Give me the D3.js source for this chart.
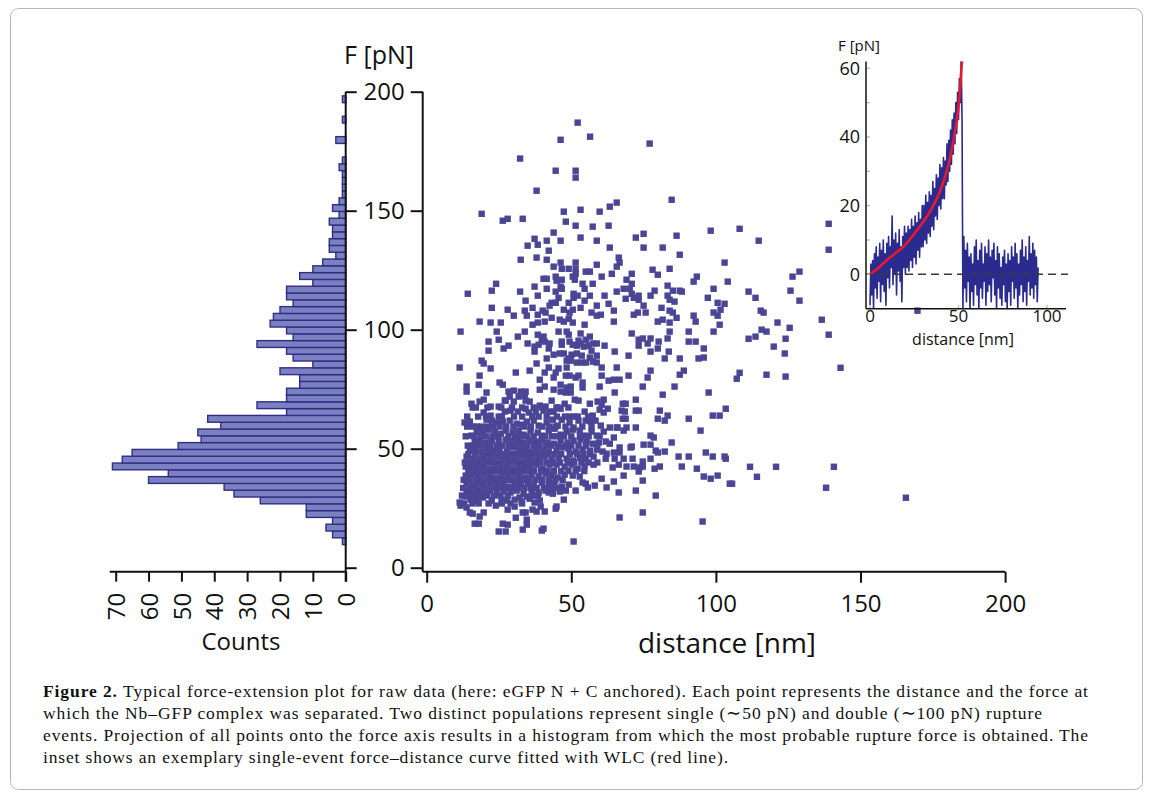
<!DOCTYPE html>
<html>
<head>
<meta charset="utf-8">
<script src="https://cdn.jsdelivr.net/npm/d3@7"></script>
<style>
  body { margin: 0; background: #fff; }
  svg { display: block; }
  .axis-line { stroke: #111; stroke-width: 2; }
  .axis line { stroke: #111; stroke-width: 2; }
  .axis text { font-family: "Open Sans", sans-serif; font-size: 24px; fill: #111; }
  .axis-title { font-family: "Open Sans", sans-serif; fill: #111; }
  .inset-axis-line { stroke: #111; stroke-width: 1.5; }
  .inset-tick { stroke: #b5b5b5; stroke-width: 1.2; }
  .inset-label { font-family: "Open Sans", sans-serif; fill: #111; }
  .caption { font-family: "Liberation Serif", "Times New Roman", Times, serif; font-size: 17.5px; fill: #111; }
  .frame { fill: none; stroke: #b8b8b8; stroke-width: 1; }
</style>
</head>
<body>
<div id="wrapper"></div>
<script>
// rupture events: [distance nm, force pN]
const ruptureEvents = [
  [52.2,187.0],[46.3,179.8],[56.5,181.1],[77.1,178.2],[32.3,171.9],[44.6,166.8],[51.5,166.8],[51.5,163.9],[38.0,158.4],[84.7,154.6],
  [65.7,153.4],[63.3,151.7],[19.0,148.7],[26.3,145.8],[28.0,146.6],[33.2,146.6],[47.4,149.6],[53.2,150.4],[59.8,149.6],[48.1,145.4],
  [51.5,143.7],[57.4,143.3],[62.9,143.7],[98.2,141.6],[43.9,140.8],[75.0,140.3],[72.3,138.7],[86.4,139.5],[37.3,138.2],[41.5,137.4],
  [46.3,137.4],[53.2,138.7],[58.8,137.4],[34.9,135.3],[38.4,135.7],[63.3,134.5],[75.0,134.5],[81.6,134.5],[42.2,133.2],[87.5,131.5],
  [32.5,129.4],[38.0,130.3],[41.5,129.4],[66.4,130.3],[66.7,128.2],[46.3,128.2],[51.5,128.2],[58.8,127.3],[103.0,128.2],[43.9,126.5],
  [46.7,125.6],[49.1,125.6],[51.5,125.6],[65.7,126.5],[78.1,125.2],[84.0,125.6],[55.0,124.4],[56.4,124.4],[51.5,123.5],[64.0,123.5],
  [70.9,123.5],[79.9,123.1],[93.4,122.3],[60.5,122.3],[40.4,121.4],[41.5,121.4],[44.6,122.3],[44.9,120.6],[50.5,122.3],[51.2,121.0],
  [46.7,121.0],[69.1,121.0],[92.3,120.2],[104.1,120.2],[24.0,119.3],[53.9,119.3],[57.4,119.3],[70.9,119.3],[83.3,118.5],[46.3,118.1],
  [37.3,118.1],[41.5,117.2],[46.7,117.2],[54.6,117.2],[68.1,117.2],[70.2,117.2],[99.2,117.2],[78.8,116.4],[85.1,116.4],[87.5,116.4],
  [88.2,116.0],[14.2,115.1],[22.5,116.4],[32.3,116.0],[44.6,116.0],[50.8,115.1],[52.2,114.3],[56.4,114.3],[61.5,114.3],[65.7,116.0],
  [70.9,115.1],[73.3,114.3],[77.4,114.3],[83.3,114.3],[38.4,114.3],[45.6,113.4],[50.8,113.4],[68.8,113.0],[71.6,113.4],[73.3,112.6],
  [84.0,112.6],[97.2,113.4],[85.7,111.8],[34.2,112.2],[43.2,111.3],[44.6,111.3],[49.1,111.3],[54.6,112.2],[62.9,110.9],[75.0,110.1],
  [100.6,111.3],[103.0,110.9],[22.5,109.2],[36.6,109.2],[42.5,110.1],[58.8,110.1],[28.0,108.4],[33.9,108.0],[40.1,108.0],[47.4,108.4],
  [50.5,108.4],[53.2,109.2],[64.7,108.0],[81.2,109.2],[84.0,108.0],[101.6,108.4],[30.1,105.9],[34.6,105.9],[38.4,106.3],[41.1,107.2],
  [49.4,107.2],[57.0,107.2],[60.2,106.3],[58.8,105.9],[71.6,106.3],[73.0,107.2],[75.7,107.2],[85.1,107.2],[92.3,105.9],[99.2,107.2],
  [100.6,105.9],[86.4,105.0],[18.3,103.4],[22.1,103.0],[25.6,103.0],[36.6,102.1],[38.4,103.0],[40.8,103.4],[43.2,105.0],[46.0,104.2],
  [47.4,103.4],[49.1,104.6],[50.5,103.0],[54.6,102.1],[64.7,103.4],[79.9,103.4],[81.6,104.2],[84.0,103.0],[93.0,103.4],[101.3,102.1],
  [108.2,142.4],[114.8,137.4],[139.0,144.5],[139.0,133.6],[126.5,122.3],[128.9,124.4],[111.3,116.0],[113.7,113.4],[125.8,116.4],[128.9,112.2],
  [115.5,108.0],[116.5,107.2],[136.6,104.2],[121.3,103.0],[125.5,100.8],[115.8,100.0],[117.5,99.2],[111.3,96.2],[113.7,97.1],[124.1,96.2],
  [139.0,97.9],[120.0,92.9],[123.8,90.0],[143.1,84.0],[108.2,81.9],[117.5,81.1],[124.1,80.3],[107.2,79.4],[169.7,108.0],
  [111.8,42.4],[120.8,42.4],[140.8,42.4],[114.2,38.2],[105.6,35.3],[138.1,33.6],[165.7,29.4],
  [11.7,99.2],[24.2,99.2],[31.5,97.1],[33.9,99.2],[38.4,97.9],[40.4,97.1],[45.6,99.2],[48.4,99.2],[49.1,97.9],[53.2,98.4],
  [56.4,97.1],[70.9,98.4],[84.0,99.2],[90.6,99.2],[99.2,99.2],[21.4,95.0],[24.9,95.8],[28.3,93.3],[26.6,92.1],[34.9,94.2],
  [37.3,92.9],[38.7,93.7],[39.8,95.8],[40.8,95.0],[42.5,94.2],[42.2,92.1],[46.7,95.0],[46.7,93.7],[49.4,95.0],[50.5,93.7],
  [51.9,93.3],[52.5,95.4],[53.2,94.2],[55.0,95.8],[54.3,92.9],[56.0,93.3],[57.4,94.2],[58.8,94.2],[57.0,91.2],[61.5,93.3],
  [65.0,90.8],[73.3,95.8],[74.7,96.3],[73.3,93.3],[76.4,94.2],[77.4,96.3],[80.2,95.0],[79.9,92.1],[83.3,96.3],[90.6,95.0],
  [93.0,95.0],[95.8,92.1],[77.4,90.8],[83.7,90.8],[82.3,87.9],[87.5,87.9],[94.0,87.9],[95.8,88.3],[21.4,91.2],[37.3,90.8],
  [43.9,89.5],[46.0,90.0],[47.4,90.0],[49.1,87.9],[50.1,89.5],[51.9,90.0],[53.6,89.1],[56.4,88.3],[58.8,89.1],[69.8,89.1],
  [41.5,87.9],[48.4,87.0],[49.8,87.0],[51.9,86.2],[53.6,86.2],[55.0,86.2],[57.4,86.6],[58.8,86.2],[11.4,84.1],[19.0,87.0],
  [19.7,85.8],[22.1,83.7],[18.3,80.7],[18.0,76.9],[13.8,76.1],[13.8,74.0],[20.7,73.6],[25.2,77.8],[26.3,76.9],[30.8,82.0],
  [35.6,82.8],[38.0,85.8],[42.2,84.1],[40.8,82.0],[44.6,82.0],[45.6,83.7],[48.4,84.1],[49.4,80.7],[48.1,80.7],[52.5,80.7],
  [51.5,79.9],[39.1,79.0],[43.9,79.9],[60.5,84.1],[60.5,80.7],[65.7,84.1],[69.8,80.7],[77.4,82.8],[76.4,79.9],[62.9,78.6],
  [64.7,79.0],[66.7,79.0],[87.5,81.1],[88.9,82.8],[74.7,76.1],[85.7,76.1],[81.6,72.7],[97.5,73.6],[65.0,73.6],[53.9,77.8],
  [53.9,75.7],[59.8,76.1],[46.3,76.9],[46.3,74.0],[43.9,74.8],[48.4,75.7],[49.8,76.1],[48.1,73.6],[49.8,73.6],[39.1,74.8],
  [40.8,76.1],[28.3,74.0],[30.1,74.4],[32.5,74.0],[34.2,74.0],[33.9,72.3],[28.7,71.9],[27.0,70.2],
  [72.3,70.6],[67.8,68.9],[68.8,68.9],[67.4,66.0],[68.5,65.6],[72.3,66.0],[73.3,66.0],[80.6,66.0],[103.4,66.8],[83.3,63.9],
  [82.3,61.8],[79.9,62.6],[90.6,62.6],[98.9,63.9],[101.3,63.9],[67.8,62.6],[68.8,62.6],[65.7,58.9],[68.1,57.6],[69.1,58.9],
  [72.3,58.9],[94.7,57.6],[77.4,55.5],[78.5,54.7],[64.7,54.7],[84.7,52.6],[75.0,51.7],[77.4,51.7],[66.7,50.5],[70.9,50.9],
  [70.5,50.5],[79.2,49.2],[79.9,48.4],[82.3,48.8],[87.1,46.7],[90.6,46.7],[96.5,48.4],[98.9,46.7],[103.0,46.7],[103.4,45.8],
  [77.4,45.8],[74.7,44.6],[71.2,45.8],[68.1,45.8],[65.0,45.8],[61.9,45.8],[62.2,47.9],[64.7,48.4],[66.7,48.4],[63.3,52.1],
  [64.3,42.1],[66.4,43.3],[69.1,42.5],[71.6,42.5],[73.6,42.1],[74.7,42.5],[73.3,40.4],[78.8,41.6],[80.6,42.5],[88.2,42.5],
  [93.4,41.6],[95.8,38.3],[98.2,37.4],[100.6,38.7],[104.8,35.3],[68.1,38.7],[74.7,36.6],[64.7,36.2],[62.2,33.7],[66.4,31.6],
  [72.3,32.4],[79.2,30.3],[74.7,23.2],[66.7,21.1],[95.4,19.4],[60.5,37.4],[58.1,34.5],[55.7,33.7],[53.9,35.8],
  [50.8,11.0],[47.4,28.6],[44.9,25.7],[39.8,15.6],[40.4,16.4],[33.2,16.0],[34.6,20.2],[34.6,18.1],[30.8,21.0],[28.0,18.1],
  [26.3,18.5],[24.9,15.2],[27.3,15.2],[16.6,18.5],[18.0,18.5],[18.3,21.5],[19.7,23.2],[15.9,22.7],[13.8,25.3],[11.7,26.1],
  [11.4,27.4],[14.9,23.2],[28.0,24.4],[33.2,23.2],[34.2,23.2],[36.6,24.4],[38.0,23.6],[40.8,23.6],[44.6,24.8],[39.4,25.7],
  [37.3,27.4],[39.1,28.2],[30.4,25.7],[23.9,26.1],[21.4,27.0],[22.5,28.2],[25.9,28.6],[27.7,28.2],[32.1,29.5],[34.6,29.9],
  [42.2,31.6],[48.1,32.4],[51.5,32.4],[55.0,35.3],
  [15.5,68.9],[18.3,69.8],[19.7,70.6],[22.1,67.7],[24.9,67.7],[27.3,70.2],[30.1,69.8],[31.8,71.9],[34.2,70.2],[35.6,69.8],
  [39.1,68.1],[41.1,67.7],[43.2,70.2],[44.9,67.3],[47.7,68.9],[51.2,70.6],[52.5,70.2],[56.4,68.9],[59.1,69.8],[61.2,70.6],
  [60.5,68.5],[62.6,66.8],[15.9,67.3],[19.7,65.2],[22.1,63.9],[24.9,63.5],[27.0,65.6],[29.0,66.0],[31.5,65.6],[34.2,66.8],
  [35.3,65.2],[37.7,65.6],[38.7,63.5],[40.4,66.0],[42.5,65.6],[43.9,65.6],[46.3,66.8],[49.4,63.5],[52.2,63.5],[54.6,65.6],
  [57.4,63.9],[59.8,66.4],[61.2,65.2],[13.1,61.0],[14.9,61.4],[17.3,59.3],[19.0,59.3],[20.7,62.2],[22.5,61.8],[24.5,61.0],
  [26.3,61.4],[28.7,61.8],[31.1,60.5],[32.8,60.1],[34.6,61.4],[37.0,61.8],[38.7,59.7],[41.5,61.0],[43.6,62.2],[45.3,59.7],
  [46.7,62.2],[49.4,61.0],[50.8,58.9],[52.5,61.8],[55.0,61.8],[56.7,61.4],[58.4,61.8],[60.2,59.7],[63.3,58.9],[66.0,58.9],
  [15.5,55.5],[17.3,57.2],[19.4,57.6],[21.4,58.0],[23.5,57.2],[25.6,56.3],[27.3,57.6],[29.7,56.8],[31.8,57.6],[33.5,55.9],
  [35.9,57.6],[38.4,56.8],[39.8,55.5],[42.2,57.6],[44.2,58.4],[46.3,55.9],[48.4,57.2],[50.5,58.0],[52.9,57.6],[54.6,55.5],
  [57.0,57.2],[58.8,55.5],[61.2,57.2],[16.6,53.0],[18.3,53.4],[20.4,52.6],[22.5,53.4],[24.9,53.0],[27.3,53.8],[29.4,53.0],
  [31.5,53.4],[33.5,52.6],[35.6,53.4],[37.7,53.0],[39.8,53.8],[41.8,52.6],[43.9,52.1],[46.3,53.4],[48.7,52.6],[50.8,53.4],
  [53.2,53.8],[55.3,53.0],[57.4,52.1],[59.5,52.6],[61.9,53.0],[14.9,49.2],[16.9,49.6],[19.0,48.8],[21.1,50.0],[23.2,49.2],
  [25.2,49.6],[27.7,48.8],[29.7,50.5],[31.8,49.2],[33.9,49.6],[35.9,48.8],[38.0,50.0],[40.1,49.2],[42.2,48.8],[44.9,49.2],
  [47.0,50.5],[49.1,50.0],[51.5,48.8],[53.9,49.6],[56.4,49.2],[58.8,49.6],[60.8,48.8],[13.8,46.7],[15.9,45.8],[18.0,45.4],
  [20.0,46.3],[22.1,45.8],[24.2,46.7],[26.3,45.4],[28.3,46.3],[30.4,45.8],[32.5,46.7],[34.6,45.4],[36.6,46.3],[38.7,45.8],
  [40.8,46.7],[43.2,45.4],[45.6,46.3],[48.4,45.8],[50.5,45.0],[52.9,46.3],[55.0,45.8],[57.7,46.7],[13.5,42.5],[15.2,42.1],
  [17.3,42.9],[19.4,42.5],[21.4,41.6],[23.5,42.9],[25.6,42.1],[27.7,42.5],[29.7,41.6],[31.8,42.9],[33.9,42.1],[35.9,42.5],
  [38.0,43.3],[40.1,41.6],[42.5,43.3],[44.9,43.3],[47.7,42.5],[50.1,43.3],[52.2,41.6],[54.6,42.9],[57.7,43.3],[13.5,38.7],
  [15.5,39.1],[17.6,38.3],[19.7,39.5],[21.8,38.7],[23.8,37.9],[25.9,39.1],[28.0,38.3],[30.1,39.5],[32.1,38.7],[34.2,37.9],
  [36.3,39.1],[38.7,38.3],[41.1,39.5],[43.2,38.7],[45.3,37.9],[47.7,39.1],[50.5,38.7],[52.9,38.3],[13.8,35.3],[15.9,34.5],
  [18.0,35.8],[20.0,34.9],[22.1,35.8],[24.2,34.5],[26.3,35.3],[28.3,34.1],[30.4,35.8],[32.5,34.9],[34.9,35.3],[37.0,34.5],
  [39.8,35.8],[42.2,34.9],[44.2,35.3],[46.7,34.1],[49.1,34.9],[13.8,32.0],[15.5,31.1],[17.6,32.4],[19.7,31.6],[21.8,32.4],
  [24.2,31.1],[26.6,32.0],[29.0,31.6],[31.1,32.4],[33.5,31.1],[36.3,32.4],[38.7,31.6],[41.1,32.4],[43.6,31.1],[46.0,32.0],
  [13.5,29.9],[15.2,28.6],[17.3,28.2],[19.4,29.5],[30.4,28.6],[32.8,27.8],[35.6,29.0],
  [17.0,67.3],[21.0,67.3],[25.8,67.3],[29.5,67.3],[33.0,67.3],[37.0,67.3],[40.0,67.3],[45.5,67.3],[49.0,67.3],
  [14.0,63.5],[17.8,63.5],[20.5,63.5],[26.0,63.5],[30.2,63.5],[33.0,63.5],[36.5,63.5],[41.5,63.5],[45.0,63.5],[47.8,63.5],[51.0,63.5],[55.8,63.5],
  [14.0,59.3],[16.0,59.3],[21.0,59.3],[23.0,59.3],[25.2,59.3],[27.5,59.3],[30.0,59.3],[33.8,59.3],[36.0,59.3],[40.0,59.3],[42.4,59.3],[44.6,59.3],[48.0,59.3],[53.8,59.3],[57.0,59.3],
  [13.5,55.2],[16.4,55.2],[18.6,55.2],[20.6,55.2],[22.8,55.2],[24.8,55.2],[28.3,55.2],[30.6,55.2],[32.6,55.2],[34.8,55.2],[37.0,55.2],[41.0,55.2],[43.3,55.2],[45.2,55.2],[47.5,55.2],[50.0,55.2],[53.0,55.2],[56.0,55.2],[59.8,55.2],
  [14.2,51.3],[16.0,51.3],[18.0,51.3],[20.2,51.3],[22.0,51.3],[24.2,51.3],[26.2,51.3],[28.4,51.3],[30.6,51.3],[32.7,51.3],[34.8,51.3],[37.0,51.3],[39.0,51.3],[41.2,51.3],[43.0,51.3],[45.5,51.3],[48.0,51.3],[50.0,51.3],[52.5,51.3],[55.0,51.3],[59.0,51.3],
  [14.4,47.7],[16.8,47.7],[19.0,47.7],[21.2,47.7],[23.3,47.7],[25.3,47.7],[27.4,47.7],[29.5,47.7],[31.5,47.7],[33.6,47.7],[35.6,47.7],[37.8,47.7],[39.8,47.7],[42.0,47.7],[44.2,47.7],[46.5,47.7],[49.5,47.7],[52.0,47.7],[54.2,47.7],[56.5,47.7],
  [13.2,44.2],[15.0,44.2],[17.0,44.2],[19.0,44.2],[21.0,44.2],[23.0,44.2],[25.0,44.2],[27.0,44.2],[29.0,44.2],[31.0,44.2],[33.0,44.2],[35.0,44.2],[37.0,44.2],[39.2,44.2],[41.4,44.2],[43.6,44.2],[46.0,44.2],[48.8,44.2],[51.0,44.2],[53.5,44.2],[56.0,44.2],[59.0,44.2],
  [14.4,40.6],[16.4,40.6],[18.5,40.6],[20.6,40.6],[22.6,40.6],[24.6,40.6],[26.7,40.6],[28.8,40.6],[30.9,40.6],[33.0,40.6],[35.0,40.6],[37.1,40.6],[39.5,40.6],[41.8,40.6],[44.0,40.6],[46.5,40.6],[49.0,40.6],[51.5,40.6],[54.5,40.6],
  [12.8,36.9],[14.6,36.9],[16.8,36.9],[19.0,36.9],[21.0,36.9],[23.0,36.9],[25.0,36.9],[27.0,36.9],[29.2,36.9],[31.2,36.9],[33.3,36.9],[35.4,36.9],[37.6,36.9],[40.0,36.9],[42.3,36.9],[44.5,36.9],[47.0,36.9],
  [12.6,33.5],[14.8,33.5],[16.8,33.5],[19.0,33.5],[21.0,33.5],[23.2,33.5],[25.3,33.5],[27.3,33.5],[29.5,33.5],[31.6,33.5],[33.8,33.5],[36.0,33.5],[38.0,33.5],[40.5,33.5],[43.0,33.5],[45.0,33.5],
  [12.2,30.3],[14.3,30.3],[16.3,30.3],[18.3,30.3],[21.0,30.3],[23.3,30.3],[25.5,30.3],[28.0,30.3],[36.8,30.3],[38.5,30.3],
  [13.0,27.0],[15.8,27.0],[18.0,27.0],[26.0,27.0],[29.0,27.0],[33.0,27.0]
];

// force histogram (projection onto the force axis), counts from low force upward
const histBinStart = 9.7;
const histBinWidth = 2.857;
const histCounts = [
  1, 4, 6, 4, 12, 12, 26, 34, 37, 60, 54, 71, 68, 65, 51, 44, 45, 38, 42, 18,
  27, 18, 18, 14, 14, 20, 10, 16, 18, 27, 16, 18, 23, 22, 20, 16, 18, 18, 10, 14,
  10, 7, 3, 5, 5, 4, 4, 5, 2, 4, 2, 1, 1, 1, 1, 2, 1, 0, 0, 3,
  0, 0, 1, 0, 0, 1
];

const forceTicks = [0, 50, 100, 150, 200];
const distanceTicks = [0, 50, 100, 150, 200];
const countTicks = [0, 10, 20, 30, 40, 50, 60, 70];

// inset: single force-distance curve, sampled every 0.5 nm from 0 nm
const traceStep = 0.5;
const traceForce = [
  -9, 3, -6, 4, -10, 6, -4, 8, -7, 5,
  -2, 9, -8, 7, -3, 10, -5, 6, -9, 9,
  -1, 11, -4, 8, 2, 17, -3, 10, 0, 12,
  -6, 9, 1, 13, -2, 8, -8, 11, 2, 14,
  0, 12, 2, 14, 1, 13, 4, 16, 2, 14,
  5, 17, 3, 15, 7, 18, 5, 16, 8, 20,
  8, 20, 10, 23, 9, 21, 12, 24, 11, 23,
  14, 27, 13, 25, 17, 29, 16, 28, 20, 32,
  19, 31, 22, 34, 22, 33, 26, 38, 27, 39,
  30, 42, 32, 45, 35, 47, 38, 50, 41, 53,
  45, 57, 50, 63, 45, -10,
  11, -4, 7, -8, 9, -2, 5, -10, 6, -5,
  3, -9, 8, -3, 10, -6, 4, -10, 7, -4,
  9, -7, 3, -2, 8, -9, 6, -5, 10, -3,
  5, -8, 7, -1, 9, -6, 4, -10, 8, -4,
  6, -7, 2, -9, 5, -3, 7, -8, 3, -10,
  6, -5, 4, -9, 8, -2, 5, -7, 9, -4,
  6, -10, 3, -6, 7, -3, 10, -8, 5, -5,
  8, -9, 4, -2, 11, -6, 6, -4, 9, -7,
  7, -3, 5, -8, 2
];
// WLC fit: [distance nm, force pN]
const wlcFit = [
  [0, 0], [5, 2], [9.4, 4.1], [14, 6], [18.8, 8], [23.5, 10.8], [28.2, 14], [33, 17.5],
  [37.7, 22], [40.5, 25.5], [43.3, 30], [45.3, 34], [47.1, 38.8], [48.5, 43], [49.9, 48.4],
  [50.9, 54], [51.8, 61], [52.3, 64]
];
const insetForceTicks = [0, 20, 40, 60];
const insetMinorTicks = [0, 10, 20, 30, 40, 50, 60];
const insetDistanceTicks = [0, 50, 100];

const captionLines = [
  "Typical force-extension plot for raw data (here: eGFP N + C anchored). Each point represents the distance and the force at",
  "which the Nb\u2013GFP complex was separated. Two distinct populations represent single (\u223c50 pN) and double (\u223c100 pN) rupture",
  "events. Projection of all points onto the force axis results in a histogram from which the most probable rupture force is obtained. The",
  "inset shows an exemplary single-event force\u2013distance curve fitted with WLC (red line)."
];

function drawChart() {
  //* Step 1. Dimensions
  const dimensions = {
    width: 1153,
    height: 798,
    histAxisX: 345.7,
    scatterAxisX: 422.7,
    axisY: 571.7,
  };
  const pointColor = "#4b4596";

  //* Step 2. Canvas
  const wrapper = d3
    .select("#wrapper")
    .append("svg")
    .attr("width", dimensions.width)
    .attr("height", dimensions.height);

  wrapper
    .append("rect")
    .attr("class", "frame")
    .attr("x", 10.5)
    .attr("y", 8.5)
    .attr("width", 1132)
    .attr("height", 781)
    .attr("rx", 8);

  //* Step 3. Scales
  const forceScale = d3.scaleLinear().domain([0, 200]).range([567.7, 91.7]);
  const distanceScale = d3.scaleLinear().domain([0, 200]).range([426.7, 1005.1]);
  const countScale = d3.scaleLinear().domain([0, 70]).range([dimensions.histAxisX, 115.7]);

  //* Step 4. Histogram
  const histGroup = wrapper.append("g");
  histGroup
    .selectAll("rect")
    .data(histCounts.map((c, i) => ({ count: c, i })).filter((d) => d.count > 0))
    .join("rect")
    .attr("x", (d) => countScale(d.count))
    .attr("width", (d) => countScale(0) - countScale(d.count))
    .attr("y", (d) => forceScale(histBinStart + (d.i + 1) * histBinWidth))
    .attr("height", (d) =>
      forceScale(histBinStart + d.i * histBinWidth) -
      forceScale(histBinStart + (d.i + 1) * histBinWidth))
    .attr("fill", "#7b80c1")
    .attr("stroke", "#2f2e87")
    .attr("stroke-width", 1.4);

  // histogram force axis (ticks to the right, no labels)
  const histForceAxis = wrapper
    .append("g")
    .attr("class", "axis")
    .attr("transform", `translate(${dimensions.histAxisX},0)`)
    .call(d3.axisRight(forceScale).tickValues(forceTicks).tickSize(11).tickFormat(() => ""));
  histForceAxis.select(".domain").remove();
  wrapper
    .append("line")
    .attr("class", "axis-line")
    .attr("x1", dimensions.histAxisX)
    .attr("x2", dimensions.histAxisX)
    .attr("y1", forceScale(200))
    .attr("y2", dimensions.axisY + 10);

  // counts axis
  const countAxis = wrapper
    .append("g")
    .attr("class", "axis")
    .attr("transform", `translate(0,${dimensions.axisY})`)
    .call(d3.axisBottom(countScale).tickValues(countTicks).tickSize(10));
  countAxis.select(".domain").remove();
  countAxis
    .selectAll("text")
    .attr("transform", "rotate(-90)")
    .attr("x", -21)
    .attr("y", 0)
    .attr("dy", "0.36em")
    .attr("text-anchor", "end");
  wrapper
    .append("line")
    .attr("class", "axis-line")
    .attr("x1", countScale(70) - 6)
    .attr("x2", dimensions.histAxisX)
    .attr("y1", dimensions.axisY)
    .attr("y2", dimensions.axisY);

  wrapper
    .append("text")
    .attr("class", "axis-title")
    .attr("x", 241)
    .attr("y", 650)
    .attr("text-anchor", "middle")
    .style("font-size", "24px")
    .text("Counts");

  //* Step 5. Scatter axes
  const forceAxis = wrapper
    .append("g")
    .attr("class", "axis")
    .attr("transform", `translate(${dimensions.scatterAxisX},0)`)
    .call(d3.axisLeft(forceScale).tickValues(forceTicks).tickSize(12).tickPadding(6));
  forceAxis.select(".domain").remove();
  wrapper
    .append("line")
    .attr("class", "axis-line")
    .attr("x1", dimensions.scatterAxisX)
    .attr("x2", dimensions.scatterAxisX)
    .attr("y1", forceScale(200))
    .attr("y2", dimensions.axisY);

  const distanceAxis = wrapper
    .append("g")
    .attr("class", "axis")
    .attr("transform", `translate(0,${dimensions.axisY})`)
    .call(d3.axisBottom(distanceScale).tickValues(distanceTicks).tickSize(11).tickPadding(12));
  distanceAxis.select(".domain").remove();
  wrapper
    .append("line")
    .attr("class", "axis-line")
    .attr("x1", dimensions.scatterAxisX)
    .attr("x2", distanceScale(200))
    .attr("y1", dimensions.axisY)
    .attr("y2", dimensions.axisY);

  wrapper
    .append("text")
    .attr("class", "axis-title")
    .attr("x", 379)
    .attr("y", 64)
    .attr("text-anchor", "middle")
    .style("font-size", "25px")
    .text("F [pN]");

  wrapper
    .append("text")
    .attr("class", "axis-title")
    .attr("x", 727)
    .attr("y", 653)
    .attr("text-anchor", "middle")
    .style("font-size", "28px")
    .text("distance [nm]");

  //* Step 6. Scatter points
  const pointSize = 6.4;
  wrapper
    .append("g")
    .selectAll("rect")
    .data(ruptureEvents)
    .join("rect")
    .attr("x", (d) => distanceScale(d[0]) - pointSize / 2)
    .attr("y", (d) => forceScale(d[1]) - pointSize / 2)
    .attr("width", pointSize)
    .attr("height", pointSize)
    .attr("fill", pointColor);

  //* Step 7. Inset
  const insetX = d3.scaleLinear().domain([0, 100]).range([870, 1047]);
  const insetY = d3.scaleLinear().domain([0, 60]).range([274.3, 68.3]);
  const insetLeft = 866;
  const insetRight = 1066;
  const insetBottom = insetY(-10);
  const insetTop = insetY(62);

  const inset = wrapper.append("g");
  const defs = wrapper.append("defs");
  defs
    .append("clipPath")
    .attr("id", "inset-clip")
    .append("rect")
    .attr("x", insetLeft)
    .attr("y", insetTop)
    .attr("width", insetRight - insetLeft)
    .attr("height", insetBottom - insetTop);

  const plotArea = inset.append("g").attr("clip-path", "url(#inset-clip)");

  const traceLine = d3
    .line()
    .x((d, i) => insetX(i * traceStep))
    .y((d) => insetY(d));
  plotArea
    .append("path")
    .attr("d", traceLine(traceForce))
    .attr("fill", "none")
    .attr("stroke", "#2b2a8e")
    .attr("stroke-width", 1.6)
    .attr("stroke-linejoin", "round");

  inset
    .append("line")
    .attr("x1", insetLeft)
    .attr("x2", insetRight + 2)
    .attr("y1", insetY(0))
    .attr("y2", insetY(0))
    .attr("stroke", "#3a3a3a")
    .attr("stroke-width", 1.6)
    .attr("stroke-dasharray", "8,5");

  const wlcLine = d3
    .line()
    .x((d) => insetX(d[0]))
    .y((d) => insetY(d[1]))
    .curve(d3.curveMonotoneX);
  plotArea
    .append("path")
    .attr("d", wlcLine(wlcFit))
    .attr("fill", "none")
    .attr("stroke", "#e8192c")
    .attr("stroke-width", 2.6);

  // faint inward ticks
  inset
    .selectAll(".inset-ytick")
    .data(insetMinorTicks)
    .join("line")
    .attr("class", "inset-tick")
    .attr("x1", insetLeft)
    .attr("x2", insetLeft + 4)
    .attr("y1", (d) => insetY(d))
    .attr("y2", (d) => insetY(d));
  inset
    .selectAll(".inset-xtick")
    .data(insetDistanceTicks)
    .join("line")
    .attr("class", "inset-tick")
    .attr("x1", (d) => insetX(d))
    .attr("x2", (d) => insetX(d))
    .attr("y1", insetBottom)
    .attr("y2", insetBottom - 4);

  inset
    .append("line")
    .attr("class", "inset-axis-line")
    .attr("x1", insetLeft)
    .attr("x2", insetLeft)
    .attr("y1", insetTop)
    .attr("y2", insetBottom);
  inset
    .append("line")
    .attr("class", "inset-axis-line")
    .attr("x1", insetLeft)
    .attr("x2", insetRight)
    .attr("y1", insetBottom)
    .attr("y2", insetBottom);

  inset
    .selectAll(".inset-ylabel")
    .data(insetForceTicks)
    .join("text")
    .attr("class", "inset-label")
    .attr("x", 860)
    .attr("y", (d) => insetY(d))
    .attr("dy", "0.35em")
    .attr("text-anchor", "end")
    .style("font-size", "18px")
    .text((d) => d);
  inset
    .selectAll(".inset-xlabel")
    .data(insetDistanceTicks)
    .join("text")
    .attr("class", "inset-label")
    .attr("x", (d) => insetX(d))
    .attr("y", 322)
    .attr("text-anchor", "middle")
    .style("font-size", "17px")
    .text((d) => d);
  inset
    .append("text")
    .attr("class", "inset-label")
    .attr("x", 963)
    .attr("y", 345)
    .attr("text-anchor", "middle")
    .style("font-size", "16px")
    .text("distance [nm]");
  inset
    .append("text")
    .attr("class", "inset-label")
    .attr("x", 838)
    .attr("y", 51)
    .style("font-size", "15px")
    .text("F [pN]");

  //* Step 8. Caption
  const captionWidths = [1045, 999, 1045, 685];
  const caption = wrapper.append("g");
  captionLines.forEach((line, i) => {
    const t = caption
      .append("text")
      .attr("class", "caption")
      .attr("x", 43)
      .attr("y", 697 + i * 22)
      .attr("textLength", captionWidths[i])
      .attr("lengthAdjust", "spacing");
    if (i === 0) {
      t.append("tspan").attr("font-weight", "bold").text("Figure 2. ");
    }
    t.append("tspan").text(line);
  });
}

drawChart();
</script>
</body>
</html>
